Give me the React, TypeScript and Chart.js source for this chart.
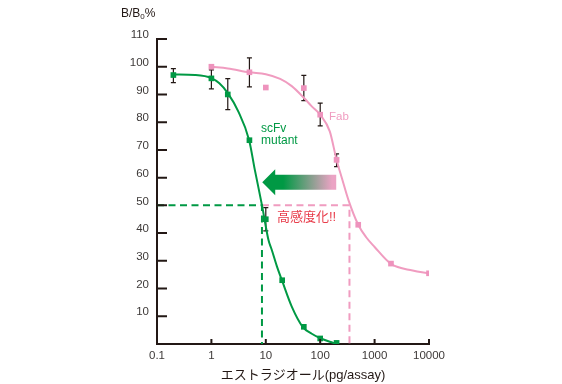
import React, { useEffect, useRef } from 'react';
import { Chart, registerables } from 'chart.js';

Chart.register(...registerables);

// ---------------- data ----------------
const xTickValues = [0.1, 1, 10, 100, 1000, 10000];
const xTickLabels = ['0.1', '1', '10', '100', '1000', '10000'];
const yTickValues = [10, 20, 30, 40, 50, 60, 70, 80, 90, 100, 110];

// scFv mutant (measured points)
const scfvX = [0.2, 1, 2, 5, 10, 20, 50, 100, 200];
const scfvY = [97, 95.8, 90, 73.5, 45, 23, 6.2, 2, 0.4];
const scfvErrLow = [94.3, 92, 84.5, null, 40.8, null, null, null, null];
const scfvErrHigh = [99.3, 98.9, 95.7, null, 49.2, null, null, null, null];

// scFv mutant (fitted curve)
const scfvCurveX = [0.2, 0.5, 1, 1.4, 2, 3.1, 4.93, 6.3, 8.5, 11.2, 12.9, 16, 19.7, 30, 48, 70, 100, 150, 197];
const scfvCurveY = [97.2, 97, 95.9, 94, 90.5, 84, 73.6, 62.7, 50.1, 37.5, 33.9, 28, 23.1, 13.5, 6.1, 3.7, 2.1, 0.8, 0.1];

// Fab (measured points)
const fabX = [1, 5, 10, 50, 100, 200, 500, 2000, 10000];
const fabY = [100, 98, 92.5, 92.3, 82.7, 66.4, 43, 29, 25.5];
const fabErrLow = [null, 92.7, null, 87.8, 78.7, 64, null, null, null];
const fabErrHigh = [null, 103.2, null, 96.9, 86.9, 68.6, null, null, null];

// Fab (fitted curve)
const fabCurveX = [1, 2, 5, 10, 18.4, 30, 50, 70, 100, 150, 200, 250, 331, 500, 700, 1000, 2000, 5000, 10000];
const fabCurveY = [100, 99.4, 98, 97.3, 95.6, 93, 88.8, 85.7, 82.7, 76.7, 66.4, 59.9, 51.9, 43, 38.5, 35, 28.9, 26.5, 25.5];

const halfLevel = 50;
const scfvIC50 = 8.5;
const fabIC50 = 345;

// arrow (in data units)
const arrowTipX = 8.6;
const arrowHeadBaseX = 14.9;
const arrowTailX = 197;
const arrowY = 58.3;

// ---------------- styles ----------------
const GREEN = '#009944';
const PINK = '#f09cc0';
const PINK_PT = '#ee93bd';
const AXIS = '#231815';
const LABEL = '#3e3a39';
const RED = '#e83c4a';
const LATIN = '"Liberation Sans", Arial, sans-serif';
const JP = '"Liberation Sans", "Noto Sans CJK JP", sans-serif';

const toXY = (xs: number[], ys: number[]) => xs.map((x, i) => ({ x, y: ys[i] }));

const decorPlugin = {
  id: 'decor',
  beforeDatasetsDraw(chart: any) {
    const { ctx } = chart;
    const x = chart.scales.x;
    const y = chart.scales.y;
    ctx.save();

    // dashed guide lines
    ctx.lineWidth = 2;
    ctx.setLineDash([7, 4.5]);
    ctx.strokeStyle = PINK;
    ctx.beginPath();
    ctx.moveTo(x.getPixelForValue(scfvIC50), y.getPixelForValue(halfLevel));
    ctx.lineTo(x.getPixelForValue(fabIC50), y.getPixelForValue(halfLevel));
    ctx.lineTo(x.getPixelForValue(fabIC50), y.getPixelForValue(0));
    ctx.stroke();

    ctx.strokeStyle = GREEN;
    ctx.beginPath();
    ctx.moveTo(x.getPixelForValue(0.1), y.getPixelForValue(halfLevel));
    ctx.lineTo(x.getPixelForValue(scfvIC50), y.getPixelForValue(halfLevel));
    ctx.lineTo(x.getPixelForValue(scfvIC50), y.getPixelForValue(0));
    ctx.stroke();
    ctx.setLineDash([]);

    // gradient arrow
    const tipX = x.getPixelForValue(arrowTipX);
    const baseX = x.getPixelForValue(arrowHeadBaseX);
    const tailX = x.getPixelForValue(arrowTailX);
    const cy = y.getPixelForValue(arrowY);
    const grad = ctx.createLinearGradient(baseX + 8, 0, tailX - 4, 0);
    grad.addColorStop(0, GREEN);
    grad.addColorStop(1, '#eba3c4');
    ctx.fillStyle = grad;
    ctx.beginPath();
    ctx.moveTo(tipX, cy);
    ctx.lineTo(baseX, cy - 13);
    ctx.lineTo(baseX, cy - 7.5);
    ctx.lineTo(tailX, cy - 7.5);
    ctx.lineTo(tailX, cy + 7.5);
    ctx.lineTo(baseX, cy + 7.5);
    ctx.lineTo(baseX, cy + 13);
    ctx.closePath();
    ctx.fill();

    // error bars
    ctx.strokeStyle = AXIS;
    ctx.lineWidth = 1.2;
    const bars = (xs: number[], lo: (number | null)[], hi: (number | null)[]) => {
      xs.forEach((v, i) => {
        const l = lo[i];
        const h = hi[i];
        if (l == null || h == null) return;
        const px = x.getPixelForValue(v);
        const y1 = y.getPixelForValue(l);
        const y2 = y.getPixelForValue(h);
        ctx.beginPath();
        ctx.moveTo(px, y1);
        ctx.lineTo(px, y2);
        ctx.moveTo(px - 2.5, y1);
        ctx.lineTo(px + 2.5, y1);
        ctx.moveTo(px - 2.5, y2);
        ctx.lineTo(px + 2.5, y2);
        ctx.stroke();
      });
    };
    bars(scfvX, scfvErrLow, scfvErrHigh);
    bars(fabX, fabErrLow, fabErrHigh);
    ctx.restore();
  },
  afterDraw(chart: any) {
    const { ctx } = chart;
    const x = chart.scales.x;
    const y = chart.scales.y;
    ctx.save();

    // inward tick marks
    ctx.strokeStyle = AXIS;
    ctx.lineWidth = 2;
    ctx.beginPath();
    yTickValues.forEach((v) => {
      const py = y.getPixelForValue(v);
      ctx.moveTo(x.left, py);
      ctx.lineTo(x.left + 10, py);
    });
    xTickValues.slice(1).forEach((v) => {
      const px = x.getPixelForValue(v);
      ctx.moveTo(px, y.bottom);
      ctx.lineTo(px, y.bottom - 5);
    });
    ctx.stroke();

    // y-axis title B/B0%
    ctx.fillStyle = AXIS;
    ctx.textBaseline = 'alphabetic';
    ctx.textAlign = 'left';
    ctx.font = `12px ${LATIN}`;
    const t1 = 'B/B';
    ctx.fillText(t1, 121, 16.5);
    let cx = 121 + ctx.measureText(t1).width;
    ctx.font = `8px ${LATIN}`;
    ctx.fillText('0', cx, 19);
    cx += ctx.measureText('0').width;
    ctx.font = `12px ${LATIN}`;
    ctx.fillText('%', cx, 16.5);

    // x-axis title
    ctx.font = `13px ${JP}`;
    ctx.textAlign = 'center';
    ctx.fillStyle = AXIS;
    ctx.fillText('エストラジオール(pg/assay)', 303, 379);

    // series labels
    ctx.textAlign = 'left';
    ctx.font = `12px ${LATIN}`;
    ctx.fillStyle = GREEN;
    ctx.fillText('scFv', 261, 132);
    ctx.fillText('mutant', 261, 143.5);
    ctx.fillStyle = PINK;
    ctx.font = `11.5px ${LATIN}`;
    ctx.fillText('Fab', 329, 120);

    ctx.fillStyle = RED;
    ctx.font = `13px ${JP}`;
    ctx.fillText('高感度化!!', 277, 221);
    ctx.restore();
  },
};

export default function App() {
  const canvasRef = useRef<HTMLCanvasElement | null>(null);

  useEffect(() => {
    const canvas = canvasRef.current;
    if (!canvas) return;
    const chart = new Chart(canvas, {
      type: 'scatter',
      data: {
        datasets: [
          {
            label: 'scFv mutant',
            data: toXY(scfvX, scfvY),
            showLine: false,
            pointStyle: 'rect',
            pointRadius: 4,
            pointBackgroundColor: GREEN,
            pointBorderWidth: 0,
            borderColor: GREEN,
          },
          {
            label: 'Fab',
            data: toXY(fabX, fabY),
            showLine: false,
            pointStyle: 'rect',
            pointRadius: 4,
            pointBackgroundColor: PINK_PT,
            pointBorderWidth: 0,
            borderColor: PINK_PT,
          },
          {
            label: 'scFv fit',
            data: toXY(scfvCurveX, scfvCurveY),
            showLine: true,
            pointRadius: 0,
            borderColor: GREEN,
            borderWidth: 2,
            cubicInterpolationMode: 'monotone',
          },
          {
            label: 'Fab fit',
            data: toXY(fabCurveX, fabCurveY),
            showLine: true,
            pointRadius: 0,
            borderColor: PINK,
            borderWidth: 2,
            cubicInterpolationMode: 'monotone',
          },
        ],
      },
      options: {
        responsive: false,
        animation: false,
        devicePixelRatio: 1,
        layout: { padding: { left: 117, right: 133, top: 39, bottom: 0 } },
        plugins: { legend: { display: false }, tooltip: { enabled: false } },
        scales: {
          x: {
            type: 'logarithmic',
            min: 0.1,
            max: 10000,
            afterBuildTicks: (s: any) => {
              s.ticks = xTickValues.map((v) => ({ value: v }));
            },
            afterFit: (s: any) => {
              s.height = 40;
            },
            grid: { display: false, drawTicks: false },
            border: { display: true, color: AXIS, width: 2 },
            ticks: {
              autoSkip: false,
              maxRotation: 0,
              padding: 5,
              color: LABEL,
              font: { family: LATIN, size: 11.5 },
              callback: (v: any) => {
                const i = xTickValues.indexOf(Number(v));
                return i >= 0 ? xTickLabels[i] : '';
              },
            },
          },
          y: {
            type: 'linear',
            min: 0,
            max: 110,
            afterBuildTicks: (s: any) => {
              s.ticks = yTickValues.map((v) => ({ value: v }));
            },
            afterFit: (s: any) => {
              s.width = 40;
            },
            grid: { display: false, drawTicks: false },
            border: { display: true, color: AXIS, width: 2 },
            ticks: {
              padding: 8,
              labelOffset: -4,
              color: LABEL,
              font: { family: LATIN, size: 11.5 },
              callback: (v: any) => String(v),
            },
          },
        },
      },
      plugins: [decorPlugin],
    } as any);
    return () => chart.destroy();
  }, []);

  return (
    <div style={{ position: 'fixed', left: 0, top: 0, width: 562, height: 384, background: '#fff' }}>
      <canvas ref={canvasRef} width={562} height={384} style={{ width: 562, height: 384 }} />
    </div>
  );
}
